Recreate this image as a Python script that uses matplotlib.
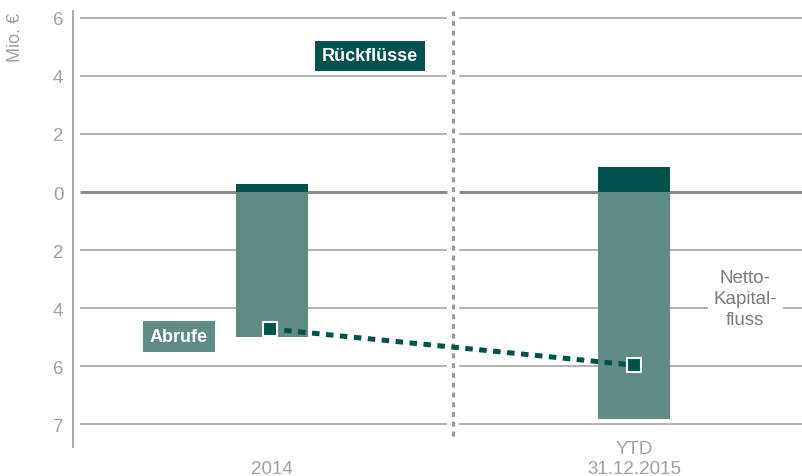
import matplotlib
matplotlib.use("Agg")
import matplotlib.pyplot as plt
from matplotlib.transforms import blended_transform_factory

categories = ["2014", "YTD\n31.12.2015"]
abrufe = [-5.0, -7.83]
rueckfluesse = [0.28, 0.86]
netto = [-4.72, -5.97]
ytick_vals = [6, 4, 2, 0, -2, -4, -6, -8]
ytick_labels = ["6", "4", "2", "0", "2", "4", "6", "7"]

C_LIGHT = "#5f8b84"
C_DARK = "#00514a"
C_GRID = "#a6a6a6"
C_TEXT = "#a0a0a0"

plt.rcParams["font.family"] = ["Liberation Sans", "DejaVu Sans"]

W, H = 803, 477
fig = plt.figure(figsize=(W / 100, H / 100), dpi=100)
ax = fig.add_axes([73 / W, (477 - 448) / H, (803 - 73) / W, (448 - 12) / H])
ax.set_xlim(-0.55, 1.467)
ax.set_ylim(-8.79, 6.24)

x = list(range(len(categories)))

# gridlines with gap around separator
sep = 0.5
for v in ytick_vals:
    lw = 2.2 if v == 0 else 1.2
    col = "#8c8c8c" if v == 0 else C_GRID
    ax.plot([-0.53, sep - 0.017], [v, v], color=col, lw=lw, zorder=1, solid_capstyle="butt")
    ax.plot([sep + 0.017, 1.467], [v, v], color=col, lw=lw, zorder=1, solid_capstyle="butt")

ax.plot([sep, sep], [-8.4, 6.24], color="#9a9a9a", lw=2.2, ls=(0, (1.6, 1.6)), zorder=1)

ax.bar(x, abrufe, width=0.2, color=C_LIGHT, zorder=2)
ax.bar(x, rueckfluesse, width=0.2, color=C_DARK, zorder=2)

ax.plot([-0.005, 1.0], netto, color=C_DARK, lw=3.6, ls=(0, (1.5, 1.3)), zorder=3)
ax.scatter([-0.005, 1.0], netto, marker="s", s=115, color=C_DARK,
           edgecolor="white", linewidth=1.5, zorder=4)

ax.set_yticks(ytick_vals)
ax.set_yticklabels(ytick_labels)
ax.set_xticks([])
ax.tick_params(axis="y", length=0, colors=C_TEXT, labelsize=13.5, pad=7)

# category labels, bottom aligned near the figure's bottom edge
trans = blended_transform_factory(ax.transData, fig.transFigure)
for xi, lab in zip(x, categories):
    ax.text(xi, 1 - 474 / H, lab, transform=trans, ha="center", va="baseline",
            color=C_TEXT, fontsize=13.5, linespacing=1.25)

for s in ["top", "right", "bottom"]:
    ax.spines[s].set_visible(False)
ax.spines["left"].set_color(C_TEXT)
ax.spines["left"].set_linewidth(1.3)

fig.text(16 / W, 1 - 38 / H, "Mio. €", rotation=90, color=C_TEXT, fontsize=13,
         ha="center", va="center")

ax.text(-0.257, -4.97, "Abrufe", color="white", fontsize=13, fontweight="bold",
        ha="center", va="center", zorder=5,
        bbox=dict(boxstyle="square,pad=0.38", fc=C_LIGHT, ec="none"))
ax.text(0.271, 4.69, "Rückflüsse", color="white", fontsize=13, fontweight="bold",
        ha="center", va="center", zorder=5,
        bbox=dict(boxstyle="square,pad=0.38", fc=C_DARK, ec="none"))
ax.text(1.307, -3.66, "Netto-\nKapital-\nfluss", color="#7a7a7a", fontsize=13.5,
        ha="center", va="center", zorder=5, linespacing=1.3,
        bbox=dict(boxstyle="square,pad=0.3", fc="white", ec="none"))

fig.savefig("out.png", dpi=100)
